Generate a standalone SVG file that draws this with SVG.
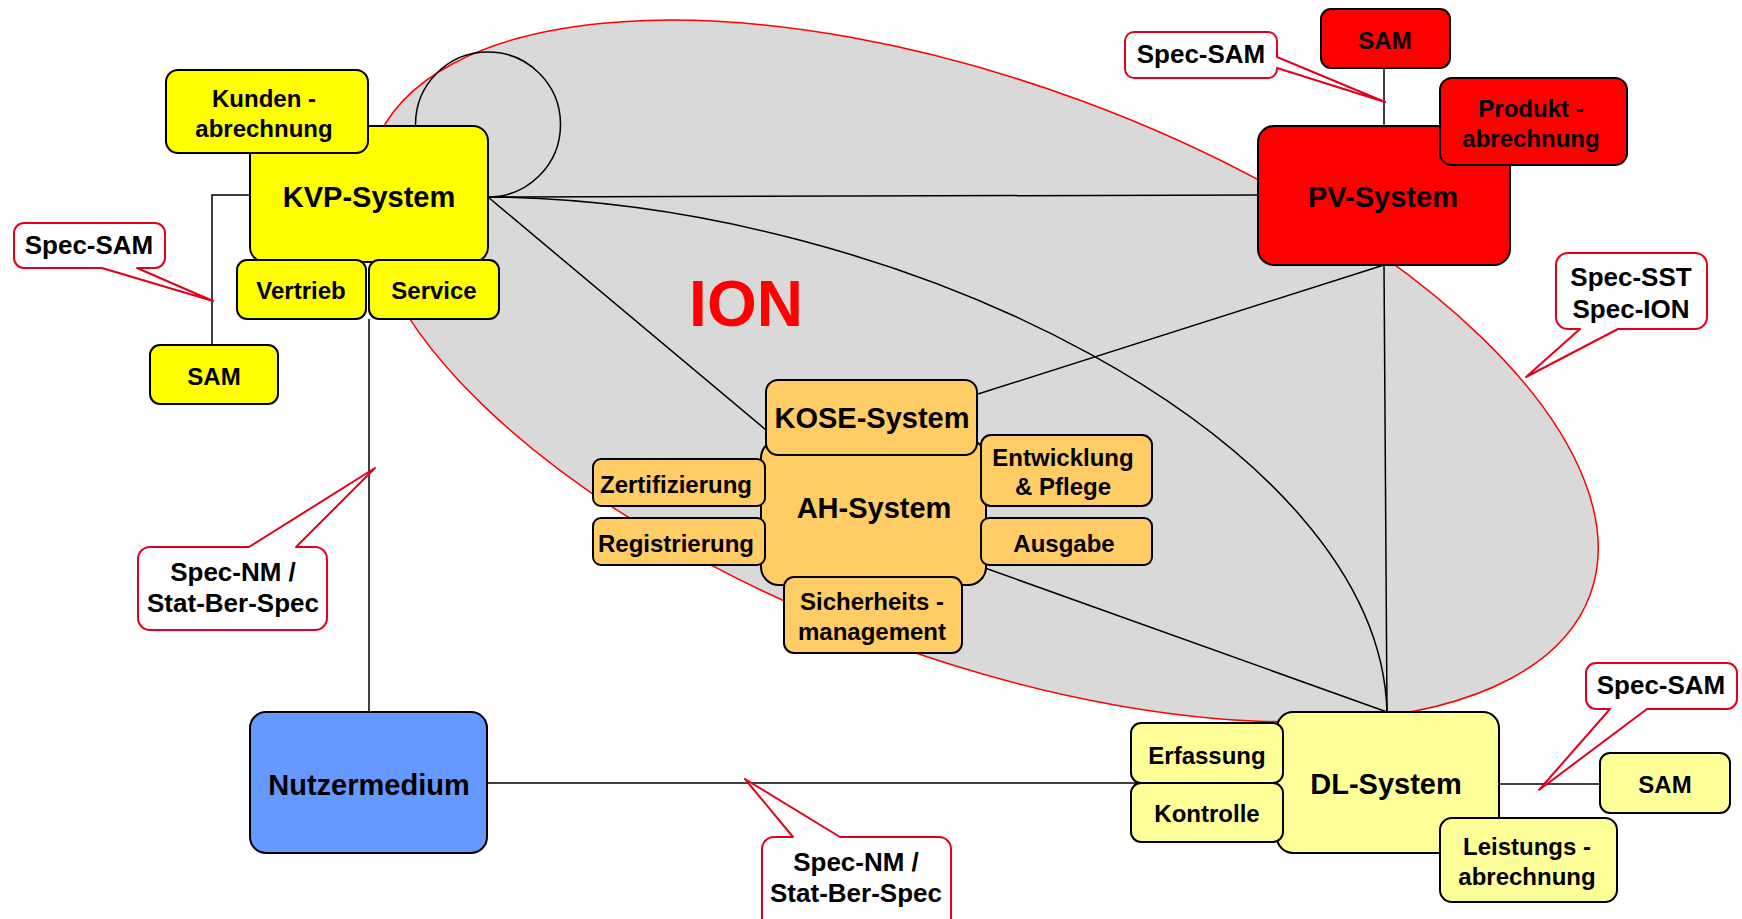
<svg xmlns="http://www.w3.org/2000/svg" width="1742" height="919" viewBox="0 0 1742 919">
<style>
.n{stroke:#000;stroke-width:2}
.y{fill:#ffff00}.r{fill:#ff0000}.o{fill:#ffcc66}.b{fill:#6699ff}.ly{fill:#ffff99}
.t{font-family:"Liberation Sans",Arial,sans-serif;font-weight:bold;fill:#000;text-anchor:middle}
.s24{font-size:24px}.s26{font-size:26px}.s29{font-size:29px}
.c{fill:none;stroke:#000;stroke-width:1.5}
.co{fill:#fff;stroke:#e3001b;stroke-width:2;stroke-linejoin:round}
</style>
<rect width="1742" height="919" fill="#fff"/>
<g id="ion">
<ellipse cx="982" cy="371" rx="648" ry="288" transform="rotate(20.2 982 371)" fill="#d9d9d9" stroke="#ff0000" stroke-width="1.5"/>
<text x="746" y="326" font-family="Liberation Sans,Arial,sans-serif" font-weight="bold" font-size="64" fill="#ff0000" text-anchor="middle">ION</text>
</g>
<g id="connectors">
<path class="c" d="M488,197 L1258,195"/>
<path class="c" d="M488,197 L766,430"/>
<path class="c" d="M488,197 C900,200 1380,440 1387,712"/>
<path class="c" d="M978,394 L1384,265" stroke-width="2"/>
<path class="c" d="M1384,265 L1387,712"/>
<path class="c" d="M985,568 L1387,712"/>
<circle class="c" cx="488" cy="124.5" r="72.5" stroke-width="2"/>
<path class="c" d="M250,195 H212 V345"/>
<path class="c" d="M369,319 V712"/>
<path class="c" d="M487,783 H1290" stroke-width="2"/>
<path class="c" d="M1499,784 H1600"/>
<path class="c" d="M1384,68 V126"/>
</g>
<g id="kvp">
<rect class="n y" x="250" y="126" width="238" height="136" rx="15"/>
<rect class="n y" x="166" y="70" width="202" height="83" rx="12"/>
<rect class="n y" x="237" y="260" width="129" height="59" rx="10"/>
<rect class="n y" x="369" y="260" width="130" height="59" rx="10"/>
<text class="t s29" x="369" y="207">KVP-System</text>
<text class="t s24" x="264" y="107">Kunden -</text>
<text class="t s24" x="264" y="137">abrechnung</text>
<text class="t s24" x="301" y="299">Vertrieb</text>
<text class="t s24" x="434" y="299">Service</text>
</g>
<g id="sam-kvp">
<rect class="n y" x="150" y="345" width="128" height="59" rx="10"/>
<text class="t s24" x="214" y="385">SAM</text>
</g>
<g id="pv">
<rect class="n r" x="1258" y="126" width="252" height="139" rx="16"/>
<rect class="n r" x="1321" y="9" width="129" height="59" rx="10"/>
<rect class="n r" x="1440" y="78" width="187" height="87" rx="12"/>
<text class="t s29" x="1383" y="207">PV-System</text>
<text class="t s24" x="1385" y="49">SAM</text>
<text class="t s24" x="1531" y="117">Produkt -</text>
<text class="t s24" x="1531" y="147">abrechnung</text>
</g>
<g id="ah">
<rect class="n o" x="761" y="440" width="225" height="145" rx="18"/>
<rect class="n o" x="766" y="380" width="211" height="75" rx="12"/>
<rect class="n o" x="593" y="459" width="172" height="47" rx="8"/>
<rect class="n o" x="593" y="518" width="172" height="47" rx="8"/>
<rect class="n o" x="981" y="435" width="171" height="71" rx="10"/>
<rect class="n o" x="981" y="518" width="171" height="47" rx="8"/>
<rect class="n o" x="784" y="577" width="178" height="76" rx="10"/>
<text class="t s29" x="872" y="428">KOSE-System</text>
<text class="t s29" x="874" y="518">AH-System</text>
<text class="t s24" x="676" y="493">Zertifizierung</text>
<text class="t s24" x="676" y="552">Registrierung</text>
<text class="t s24" x="1063" y="466">Entwicklung</text>
<text class="t s24" x="1063" y="495">&amp; Pflege</text>
<text class="t s24" x="1064" y="552">Ausgabe</text>
<text class="t s24" x="872" y="610">Sicherheits -</text>
<text class="t s24" x="872" y="640">management</text>
</g>
<g id="nutzermedium">
<rect class="n b" x="250" y="712" width="237" height="141" rx="16"/>
<text class="t s29" x="369" y="795">Nutzermedium</text>
</g>
<g id="dl">
<rect class="n ly" x="1277" y="712" width="222" height="141" rx="16"/>
<rect class="n ly" x="1131" y="723" width="152" height="60" rx="10"/>
<rect class="n ly" x="1131" y="783" width="152" height="59" rx="10"/>
<rect class="n ly" x="1440" y="818" width="177" height="84" rx="12"/>
<text class="t s29" x="1386" y="794">DL-System</text>
<text class="t s24" x="1207" y="764">Erfassung</text>
<text class="t s24" x="1207" y="822">Kontrolle</text>
<text class="t s24" x="1527" y="855">Leistungs -</text>
<text class="t s24" x="1527" y="885">abrechnung</text>
</g>
<g id="sam-dl">
<rect class="n ly" x="1600" y="753" width="130" height="60" rx="10"/>
<text class="t s24" x="1665" y="793">SAM</text>
</g>
<g id="callout-spec-sam-left">
<path class="co" d="M24,223 H155 A10,10 0 0 1 165,233 V258 A10,10 0 0 1 155,268 H137 L213,301 L102,268 H24 A10,10 0 0 1 14,258 V233 A10,10 0 0 1 24,223 Z"/>
<text class="t s26" x="89" y="254">Spec-SAM</text>
</g>
<g id="callout-spec-nm-left">
<path class="co" d="M150,547 H249 L375,468 L296,547 H315 A12,12 0 0 1 327,559 V618 A12,12 0 0 1 315,630 H150 A12,12 0 0 1 138,618 V559 A12,12 0 0 1 150,547 Z"/>
<text class="t s26" x="233" y="581">Spec-NM /</text>
<text class="t s26" x="233" y="612">Stat-Ber-Spec</text>
</g>
<g id="callout-spec-nm-bottom">
<path class="co" d="M774,837 H793 L745,779 L840,837 H939 A12,12 0 0 1 951,849 V930 H762 V849 A12,12 0 0 1 774,837 Z"/>
<text class="t s26" x="856" y="871">Spec-NM /</text>
<text class="t s26" x="856" y="902">Stat-Ber-Spec</text>
</g>
<g id="callout-spec-sam-top">
<path class="co" d="M1134,32 H1268 A9,9 0 0 1 1277,41 V57 L1385,102 L1277,68 V69 A9,9 0 0 1 1268,78 H1134 A9,9 0 0 1 1125,69 V41 A9,9 0 0 1 1134,32 Z"/>
<text class="t s26" x="1201" y="63">Spec-SAM</text>
</g>
<g id="callout-spec-sst">
<path class="co" d="M1568,253 H1695 A12,12 0 0 1 1707,265 V317 A12,12 0 0 1 1695,329 H1618 L1526,377 L1580,329 H1568 A12,12 0 0 1 1556,317 V265 A12,12 0 0 1 1568,253 Z"/>
<text class="t s26" x="1631" y="286">Spec-SST</text>
<text class="t s26" x="1631" y="318">Spec-ION</text>
</g>
<g id="callout-spec-sam-right">
<path class="co" d="M1596,663 H1727 A10,10 0 0 1 1737,673 V699 A10,10 0 0 1 1727,709 H1647 L1539,790 L1610,709 H1596 A10,10 0 0 1 1586,699 V673 A10,10 0 0 1 1596,663 Z"/>
<text class="t s26" x="1661" y="694">Spec-SAM</text>
</g>
</svg>
